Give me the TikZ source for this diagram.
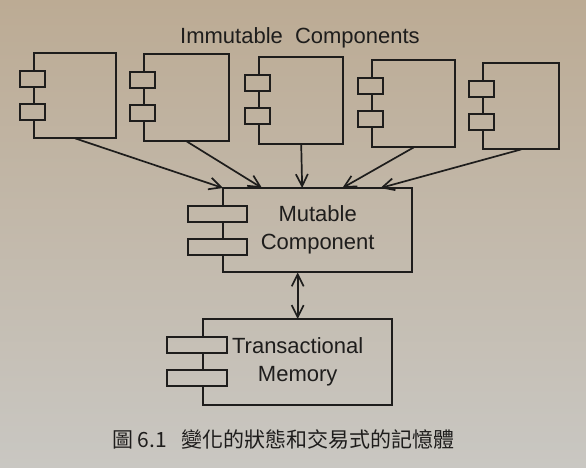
\documentclass[tikz,border=0pt]{standalone}
\usepackage{fontspec}
\setmainfont{Liberation Sans}
\newfontfamily\cjk{Noto Sans CJK TC}
\usetikzlibrary{arrows.meta,calc}
\definecolor{ink}{HTML}{1E1D1C}
\definecolor{bgtop}{RGB}{188,171,148}
\definecolor{bgmid}{RGB}{214,208,200}
\definecolor{bgbot}{RGB}{201,199,194}
\newcommand\drawcomp[8]{%
  \node[box,minimum width=#4pt,minimum height=#5pt] (#1) at (#2,#3) {#8};
  \node[port,minimum width=#6pt] (#1a) at ($(#1.north west)+(#7,26)$) {};
  \node[port,minimum width=#6pt] (#1b) at ($(#1.north west)+(#7,59)$) {};
  \draw[edge] (#1a.north -| #1.west) -- (#1.north west) -- (#1.north east) -- (#1.south east) -- (#1.south west) -- (#1b.south -| #1.west);
  \draw[edge] (#1a.south -| #1.west) -- (#1b.north -| #1.west);
}
\begin{document}
\begin{tikzpicture}[x=1pt,y=-1pt,
  box/.style={anchor=north west,inner sep=0pt,align=center,text=ink,font=\fontsize{22}{28}\selectfont},
  port/.style={draw=ink,line width=1.9pt,inner sep=0pt,minimum height=16pt},
  edge/.style={draw=ink,line width=1.9pt,line join=miter},
  dep/.style={draw=ink,line width=1.7pt,-{Straight Barb[length=12pt,width=12pt,line width=1.7pt]}},
  dep2/.style={draw=ink,line width=1.7pt,{Straight Barb[length=12pt,width=12pt,line width=1.7pt]}-{Straight Barb[length=12pt,width=12pt,line width=1.7pt]}},
  lbl/.style={text=ink,font=\fontsize{22}{27}\selectfont}]
\useasboundingbox (0,0) rectangle (586,467);
\shade[top color=bgtop,middle color=bgmid,bottom color=bgbot] (0,0) rectangle (586,467);

\node[lbl,anchor=base] (title) at (300,43) {Immutable\hspace{0.55em}Components};

\drawcomp{i1}{34}{53}{82}{85}{25}{-1.5}{}
\drawcomp{i2}{144}{54}{85}{87}{25}{-1.5}{}
\drawcomp{i3}{259}{57}{84}{87}{25}{-1.5}{}
\drawcomp{i4}{372}{60}{83}{87}{25}{-1.5}{}
\drawcomp{i5}{483}{63}{76}{86}{25}{-1.5}{}

\drawcomp{m}{223}{188}{189}{84}{59}{-5.5}{Mutable\\Component}
\drawcomp{t}{203}{319}{189}{86}{60}{-6}{Transactional\\Memory}

\draw[dep] (i1.south) -- (m.north west);
\draw[dep] (i2.south) -- ($(m.north west)!0.206!(m.north east)$);
\draw[dep] (i3.south) -- ($(m.north west)!0.418!(m.north east)$);
\draw[dep] (i4.south) -- ($(m.north west)!0.63!(m.north east)$);
\draw[dep] (i5.south) -- ($(m.north west)!0.831!(m.north east)$);

\draw[dep2] (t.north |- m.south) -- (t.north);

\node[anchor=west,inner sep=0pt,text=ink,font=\cjk\fontsize{21}{21}\selectfont] (cap) at (112,439) {圖 6.1\hspace{14pt}變化的狀態和交易式的記憶體};
\end{tikzpicture}
\end{document}
